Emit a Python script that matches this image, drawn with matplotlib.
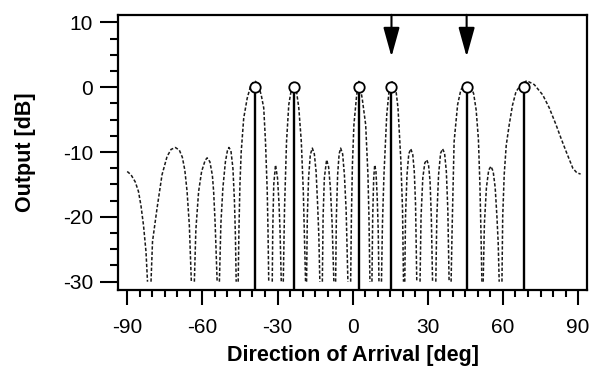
import matplotlib
matplotlib.use('Agg')
import matplotlib.pyplot as plt
from matplotlib.ticker import MultipleLocator

plt.rcParams['font.family'] = ['Liberation Sans', 'DejaVu Sans']
plt.rcParams['axes.unicode_minus'] = False

# beam pattern, one list per lobe (values below -30 dB are not drawn)
lobe_x = [
    [-90, -88.5, -86.8, -85.5, -84.5, -83.5, -82.5, -81.9],
    [-80.5, -79.9, -78.1, -76.1, -74.1, -72.5, -70.8, -69.2, -68.0, -67.0, -66.1, -65.2, -64.4],
    [-63.2, -62.6, -61.5, -60.3, -58.9, -58.1, -57.0, -56.0, -55.5, -54.9, -54.1],
    [-53.2, -52.6, -51.8, -50.8, -50.0, -49.4, -48.6, -47.8, -47.2, -46.8, -46.5],
    [-45.7, -45.4, -45.0, -44.5, -43.5, -42.1, -40.8, -39.8, -38.8, -37.5, -36.5, -35.5, -34.8, -34.1, -33.8, -33.5],
    [-32.1, -31.9, -31.5, -30.8, -30.0, -29.4, -29.0, -28.5],
    [-27.7, -27.2, -26.4, -25.5, -24.5, -23.7, -22.4, -21.5, -20.5, -19.7, -18.8],
    [-18.4, -18.1, -17.6, -16.9, -16.1, -15.3, -14.6, -14.0, -13.5, -13.1],
    [-12.1, -11.8, -11.3, -10.4, -9.6, -8.9, -8.2, -7.5],
    [-6.8, -6.5, -6.0, -5.4, -4.8, -4.0, -3.3, -2.6, -1.9],
    [-0.8, -0.5, -0.1, 0.5, 1.6, 2.5, 3.8, 5.2, 6.1, 6.5, 6.9],
    [7.7, 8.0, 8.4, 8.8, 9.3, 9.8, 10.2, 10.5],
    [11.5, 11.9, 12.5, 13.6, 14.5, 15.9, 17.2, 18.1, 19.2, 19.9, 20.3],
    [20.8, 21.1, 21.7, 22.4, 23.2, 24.0, 24.6, 25.1, 25.6],
    [26.9, 27.3, 28.0, 28.8, 29.6, 30.3, 30.9, 31.4, 31.9],
    [33.2, 33.6, 34.3, 35.1, 35.9, 36.7, 37.4, 38.0, 38.5],
    [39.3, 39.7, 40.5, 41.9, 43.2, 45.6, 47.0, 48.3, 49.3, 50.2, 50.8, 51.2, 51.6],
    [52.1, 52.6, 53.4, 54.3, 55.2, 56.1, 56.9, 57.6, 58.1, 58.5],
    [59.6, 59.9, 60.5, 61.3, 62.5, 63.8, 65.2, 67.2, 69.5, 72.5, 75.9, 78.5, 81.2, 83.2, 85.2, 87.9, 89.5, 91.0],
]
lobe_y = [
    [-13.0, -13.5, -14.6, -16.1, -18.3, -21.3, -25.4, -30],
    [-30, -23.8, -18.7, -13.5, -10.7, -9.6, -9.3, -9.7, -10.8, -12.8, -16.1, -21.3, -30],
    [-30, -22, -16.1, -13.0, -11.3, -10.9, -11.5, -13.6, -16.1, -21, -30],
    [-30, -21, -15.5, -11.5, -9.8, -9.3, -9.8, -12.5, -17.5, -23, -30],
    [-30, -22, -15, -10, -4.8, -1.7, 0.1, 0.7, 0.9, 0.1, -1.2, -3.2, -8.4, -16.1, -22, -30],
    [-30, -22, -15, -12.0, -14, -18, -22, -30],
    [-30, -18.7, -8.4, -2.7, -0.4, 0.7, -0.7, -3.2, -8.4, -16.1, -30],
    [-30, -20, -14, -10.4, -9.4, -10.3, -13, -18, -23, -30],
    [-30, -20, -14, -11.2, -12.3, -15.5, -21, -30],
    [-30, -20, -13.5, -10.3, -9.4, -10.3, -13.5, -19, -30],
    [-30, -20, -12, -5.8, -1.2, 0.9, -1.7, -5.8, -13.5, -20, -30],
    [-30, -20, -14, -12.0, -13, -17, -22, -30],
    [-30, -21, -13.5, -4.3, -0.7, 1.0, -0.2, -3.2, -11, -18.7, -30],
    [-30, -20, -13.5, -10.3, -9.5, -10.4, -13, -18, -30],
    [-30, -20, -14, -11.7, -11.2, -12, -14.5, -20, -30],
    [-30, -20, -13.5, -10.2, -9.5, -10.2, -13, -19, -30],
    [-30, -22, -8.4, -2.7, -0.4, 0.8, 0.3, -1.0, -3.5, -8, -15, -22, -30],
    [-30, -21, -15.5, -12.8, -12.2, -13, -15.5, -20, -24, -30],
    [-30, -20, -13.5, -9, -5.8, -2.8, -0.7, 0.4, 1.0, 0.4, -1.2, -3.2, -5.8, -7.9, -9.9, -12.5, -13.2, -13.4],
]

# estimated directions (stems) and the two marked sources (arrows)
doa_x = [-39, -23.5, 2.5, 15.5, 45.5, 68.3]
doa_y = [0, 0, 0, 0, 0, 0]
arrow_x = [15.5, 45.5]

fig = plt.figure(figsize=(5.91, 3.71), dpi=100)
ax = fig.add_axes([0.2, 0.218, 0.793, 0.742])
ax.set_xlim(-93.6, 93.5)
ax.set_ylim(-31.3, 11.16)

for xs, ys in zip(lobe_x, lobe_y):
    ax.plot(xs, ys, color='#1a1a1a', lw=1.1, linestyle=(0, (2.2, 1.3)))

ybot = ax.get_ylim()[0]
ax.vlines(doa_x, ybot, doa_y, color='k', lw=1.7)
ax.plot(doa_x, doa_y, 'o', ms=7.5, mfc='white', mec='k', mew=1.3, zorder=5)

for xa in arrow_x:
    ax.annotate('', xy=(xa, 4.7), xytext=(xa, ax.get_ylim()[1]),
                arrowprops=dict(arrowstyle='-|>,head_length=1.8,head_width=0.5',
                                mutation_scale=10, lw=1.5, color='k',
                                shrinkA=0, shrinkB=0))

ax.xaxis.set_major_locator(MultipleLocator(30))
ax.xaxis.set_minor_locator(MultipleLocator(5))
ax.yaxis.set_minor_locator(MultipleLocator(2.5))
ax.set_yticks([10, 0, -10, -20, -30])

for s in ax.spines.values():
    s.set_linewidth(1.6)
ax.tick_params(axis='y', which='major', length=13, width=1.5, labelsize=15, pad=5)
ax.tick_params(axis='y', which='minor', length=6, width=1.5)
ax.tick_params(axis='x', which='major', length=11, width=1.5, labelsize=15, pad=9)
ax.tick_params(axis='x', which='minor', length=5, width=1.5)
ax.tick_params(top=False, right=False, which='both')

ax.set_xlabel('Direction of Arrival [deg]', fontsize=15.5, fontweight='bold')
ax.set_ylabel('Output [dB]', fontsize=15.5, fontweight='bold')
ax.xaxis.set_label_coords(0.5, -0.2)
ax.yaxis.set_label_coords(-0.175, 0.5)

fig.savefig('out.png', dpi=100)
